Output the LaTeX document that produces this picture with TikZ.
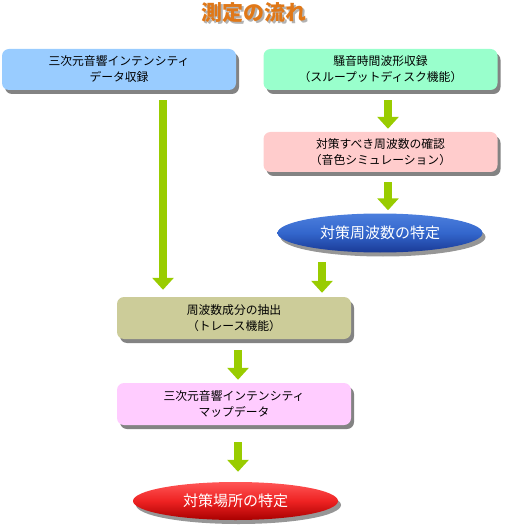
\documentclass[tikz,border=0pt]{standalone}
\usepackage{fontspec}
\setmainfont{Noto Sans CJK JP}
\usetikzlibrary{arrows.meta,shadows,shapes.geometric}
\definecolor{cBlue}{HTML}{99CCFF}
\definecolor{cMint}{HTML}{99FFCC}
\definecolor{cPink}{HTML}{FFCCCC}
\definecolor{cKhaki}{HTML}{CCCC99}
\definecolor{cViolet}{HTML}{FFCCFF}
\definecolor{cArrow}{HTML}{99CC00}
\definecolor{cTitle}{HTML}{E07818}
\definecolor{eBlueT}{HTML}{4C7FDD}
\definecolor{eBlueM}{HTML}{3366CC}
\definecolor{eBlueB}{HTML}{1A3A96}
\definecolor{eRedT}{HTML}{FF5555}
\definecolor{eRedM}{HTML}{EE2222}
\definecolor{eRedB}{HTML}{A80000}
\tikzset{
  stepbox/.style={rectangle, rounded corners=7pt, minimum width=234pt, minimum height=41pt,
    align=center, font=\fontsize{11.8}{16}\selectfont, inner sep=0pt,
    drop shadow={shadow xshift=3pt, shadow yshift=-4pt, fill=black!75, opacity=0.65}},
  goal/.style={ellipse, minimum width=205pt, minimum height=39pt, inner sep=0pt,
    text=white, font=\fontsize{15}{18}\selectfont,
    drop shadow={shadow xshift=3pt, shadow yshift=-4pt, fill=black!75, opacity=0.55}},
  bigarrow/.style={draw=cArrow, line width=8pt, -{Triangle[width=21pt,length=12pt]}}
}
\begin{document}
\begin{tikzpicture}[x=1pt,y=-1pt]
\useasboundingbox (0,0) rectangle (506,529);
% title
\node[text=black!30, font=\fontsize{21}{24}\selectfont\bfseries] (titleshadow) at (255.5,14.5) {測定の流れ};
\node[text=cTitle, font=\fontsize{21}{24}\selectfont\bfseries] (title) at (254,13) {測定の流れ};
% boxes
\node[stepbox, fill=cBlue] (b1) at (119,69.5) {三次元音響インテンシティ\\データ収録};
\node[stepbox, fill=cMint] (b2) at (380.5,69.5) {騒音時間波形収録\\（スループットディスク機能）};
\node[stepbox, fill=cPink, minimum height=40pt] (b3) at (380.5,152) {対策すべき周波数の確認\\（音色シミュレーション）};
\node[goal, top color=eBlueT, bottom color=eBlueB, middle color=eBlueM] (e1) at (380,233) {対策周波数の特定};
\node[stepbox, fill=cKhaki, minimum height=42pt] (b5) at (234,318) {周波数成分の抽出\\（トレース機能）};
\node[stepbox, fill=cViolet, minimum height=42pt] (b6) at (234,404) {三次元音響インテンシティ\\マップデータ};
\node[goal, top color=eRedT, bottom color=eRedB, middle color=eRedM, minimum height=38pt] (e2) at (235.5,501) {対策場所の特定};
% arrows
\draw[bigarrow] ([xshift=44pt,yshift=-10pt]b1.south) -- ([xshift=-71pt,yshift=7pt]b5.north);
\draw[bigarrow] ([xshift=7.5pt,yshift=-10pt]b2.south) -- ([xshift=7.5pt,yshift=3pt]b3.north);
\draw[bigarrow] ([xshift=7.5pt,yshift=-10pt]b3.south) -- ([xshift=8pt,yshift=3pt]e1.north);
\draw[bigarrow] ([xshift=-58pt,yshift=-9.5pt]e1.south) -- ([xshift=88pt,yshift=4pt]b5.north);
\draw[bigarrow] ([xshift=4pt,yshift=-11pt]b5.south) -- ([xshift=4pt,yshift=3pt]b6.north);
\draw[bigarrow] ([xshift=4pt,yshift=-17pt]b6.south) -- ([xshift=2.5pt,yshift=10pt]e2.north);
\end{tikzpicture}
\end{document}
